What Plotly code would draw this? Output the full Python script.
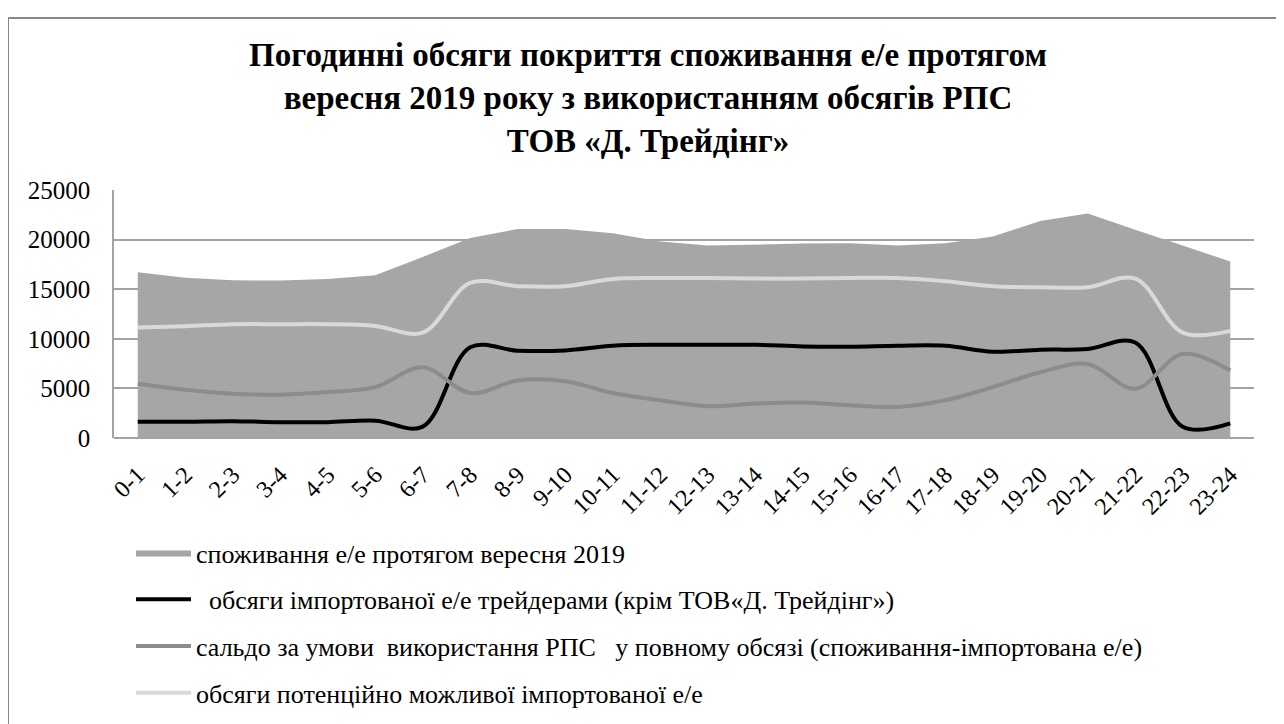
import plotly.graph_objects as go

hours = ["0-1", "1-2", "2-3", "3-4", "4-5", "5-6", "6-7", "7-8", "8-9", "9-10",
         "10-11", "11-12", "12-13", "13-14", "14-15", "15-16", "16-17", "17-18",
         "18-19", "19-20", "20-21", "21-22", "22-23", "23-24"]

consumption = [16700, 16150, 15900, 15870, 16030, 16400, 18250, 20150, 21070, 21070,
               20630, 19800, 19400, 19530, 19600, 19630, 19400, 19630, 20300, 21870,
               22630, 21000, 19400, 17800]

imports_traders = [1650, 1650, 1700, 1600, 1600, 1750, 1150, 9150, 8800, 8830,
                   9300, 9400, 9400, 9400, 9230, 9200, 9300, 9300, 8700, 8900,
                   8970, 9630, 1130, 1470]

saldo = [5470, 4870, 4470, 4370, 4630, 5130, 7130, 4530, 5800, 5730,
         4530, 3800, 3200, 3470, 3570, 3300, 3130, 3800, 5130, 6630,
         7470, 4970, 8470, 6800]

potential = [11130, 11270, 11470, 11470, 11470, 11300, 10630, 15630, 15300, 15300,
             16030, 16130, 16130, 16070, 16070, 16130, 16130, 15800, 15300, 15200,
             15200, 16070, 10630, 10800]

names = [
    "споживання е/е протягом вересня 2019",
    "\u00a0\u00a0обсяги імпортованої е/е трейдерами (крім ТОВ«Д. Трейдінг»)",
    "сальдо за умови\u00a0 використання РПС\u00a0\u00a0 у повному обсязі (споживання-імпортована е/е)",
    "обсяги потенційно можливої імпортованої е/е",
]

FONT = "Liberation Serif, Times New Roman, serif"

# page has an 8px body margin: figure coordinates = page coordinates - 8
W, H = 1284, 724
L, R, T, B = 106, 1246, 182, 430   # plot area in figure pixels


def xp(px):
    return (px - L) / (R - L)


def yp(py):
    return (B - py) / (B - T)


fig = go.Figure()

fig.add_trace(go.Scatter(
    x=hours, y=consumption, name=names[0], mode="lines",
    line=dict(width=0, color="#a6a6a6", shape="linear"),
    fill="tozeroy", fillcolor="#a6a6a6", legendgroup="g1",
))
fig.add_trace(go.Scatter(
    x=hours, y=imports_traders, name=names[1], mode="lines",
    line=dict(width=4, color="#000000", shape="spline", smoothing=1.0),
    legendgroup="g2",
))
fig.add_trace(go.Scatter(
    x=hours, y=saldo, name=names[2], mode="lines",
    line=dict(width=4, color="#8c8c8c", shape="spline", smoothing=1.0),
    legendgroup="g3",
))
fig.add_trace(go.Scatter(
    x=hours, y=potential, name=names[3], mode="lines",
    line=dict(width=4, color="#d9d9d9", shape="spline", smoothing=1.0),
    legendgroup="g4",
))

fig.update_layout(
    width=W, height=H,
    margin=dict(l=L, r=W - R, t=T, b=H - B, autoexpand=False),
    paper_bgcolor="white", plot_bgcolor="white",
    font=dict(family=FONT, color="black"),
    title=dict(
        text="Погодинні обсяги покриття споживання е/е протягом<br>"
             "вересня 2019 року з використанням обсягів РПС<br>"
             "ТОВ «Д. Трейдінг»",
        font=dict(family=FONT, size=33, color="black", weight="bold"),
        x=640 / W, xanchor="center", xref="container",
        y=1 - 58 / H, yanchor="top", yref="container",
    ),
    xaxis=dict(
        type="category", range=[-0.5, 23.5],
        showgrid=False, showline=False, zeroline=False, ticks="",
        tickangle=-45, tickfont=dict(family=FONT, size=24, color="black"),
        ticklabelstandoff=17,
    ),
    yaxis=dict(
        range=[0, 25000], dtick=5000, tick0=0, tickformat="d",
        showgrid=True, gridcolor="#a3a3a3", gridwidth=1.5,
        zeroline=True, zerolinecolor="#a3a3a3", zerolinewidth=1.5,
        showline=True, linecolor="#a3a3a3", linewidth=1.5,
        ticks="", tickfont=dict(family=FONT, size=25, color="black"),
        ticklabelstandoff=17,
    ),
    showlegend=True,
    legend=dict(
        orientation="v", x=xp(123), y=yp(521), xanchor="left", yanchor="top",
        font=dict(family=FONT, size=26, color="black"),
        tracegroupgap=10, itemwidth=55, bgcolor="rgba(0,0,0,0)",
        traceorder="grouped",
    ),
    shapes=[dict(
        type="rect", xref="paper", yref="paper",
        x0=xp(0), x1=xp(1270), y0=yp(760), y1=yp(10),
        line=dict(color="#878787", width=2), fillcolor="rgba(0,0,0,0)",
        layer="below",
    )],
)

fig.write_html("out.html")
